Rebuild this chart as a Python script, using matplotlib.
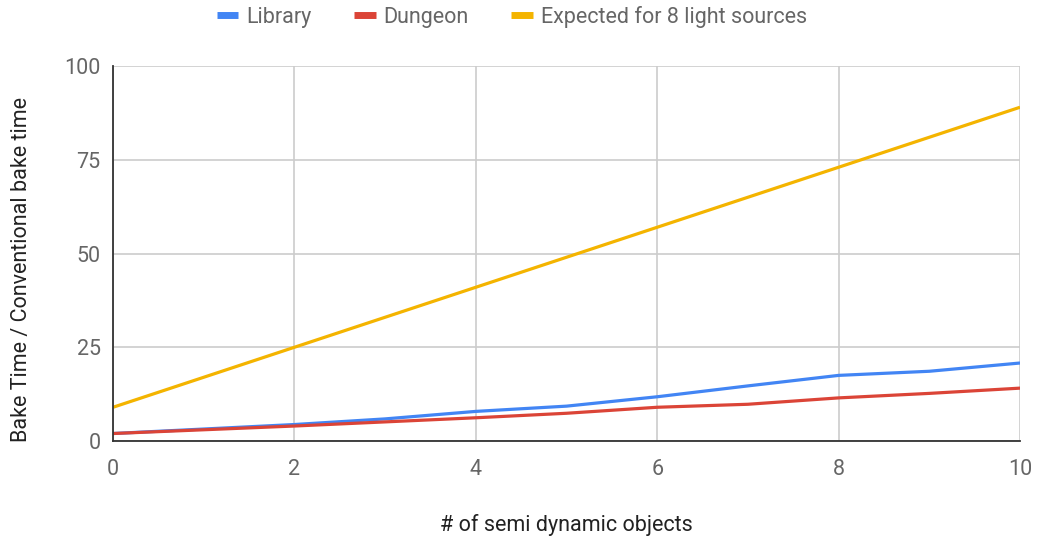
import matplotlib.pyplot as plt

plt.rcParams['font.family'] = ['Roboto', 'DejaVu Sans']

objects = [0, 1, 2, 3, 4, 5, 6, 7, 8, 9, 10]
library = [2.0, 3.2, 4.4, 5.9, 7.9, 9.3, 11.8, 14.7, 17.5, 18.6, 20.8]
dungeon = [2.0, 3.0, 4.0, 5.1, 6.2, 7.4, 9.0, 9.8, 11.5, 12.7, 14.1]
expected = [9, 17, 25, 33, 41, 49, 57, 65, 73, 81, 89]

fig = plt.figure(figsize=(10.4, 5.4), dpi=100)
ax = fig.add_axes([0.1087, 0.1833, 0.8721, 0.6945])

ax.plot(objects, library, color='#4285F4', lw=2.3, label='Library', solid_capstyle='butt')
ax.plot(objects, dungeon, color='#DB4437', lw=2.3, label='Dungeon', solid_capstyle='butt')
ax.plot(objects, expected, color='#F4B400', lw=2.3, label='Expected for 8 light sources',
        solid_capstyle='butt')

ax.set_xlim(0, 10)
ax.set_ylim(0, 100)
ax.set_xticks([0, 2, 4, 6, 8, 10])
ax.set_yticks([0, 25, 50, 75, 100])
ax.grid(True, color='#cccccc', lw=1.2)
ax.set_axisbelow(True)
for s in ['top', 'right']:
    ax.spines[s].set_visible(False)
for s in ['left', 'bottom']:
    ax.spines[s].set_color('#333333')
    ax.spines[s].set_linewidth(1.3)
    ax.spines[s].set_zorder(5)
ax.tick_params(length=0, labelsize=15.5, labelcolor='#666666')
ax.tick_params(axis='x', pad=13)
ax.tick_params(axis='y', pad=9)

fig.text(0.545, 0.028, '# of semi dynamic objects', ha='center', va='center',
         fontsize=15.5, color='#222222')
fig.text(0.021, 0.5, 'Bake Time / Conventional bake time', ha='center', va='center',
         rotation=90, fontsize=15.5, color='#222222')

fig.legend(loc='center', bbox_to_anchor=(0.492, 0.969), ncol=3, frameon=False,
           fontsize=15.5, labelcolor='#666666', handlelength=1.0, handletextpad=0.35,
           columnspacing=2.0, borderpad=0)
for line in fig.legends[0].get_lines():
    line.set_linewidth(5)

fig.savefig('out.png', dpi=100)
